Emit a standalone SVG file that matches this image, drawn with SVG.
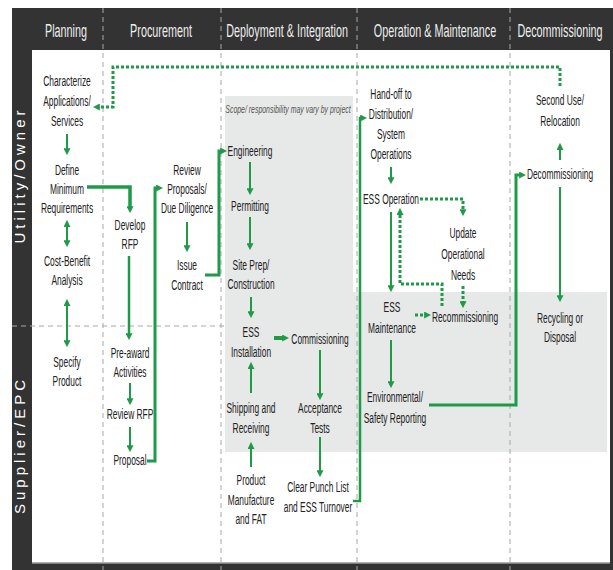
<svg xmlns="http://www.w3.org/2000/svg" width="613" height="570" viewBox="0 0 613 570">
<style>
.hd{font-family:"Liberation Sans",Arial,sans-serif;font-size:18px;fill:#eeeeee;text-anchor:middle}
.t{font-family:"Liberation Sans",Arial,sans-serif;font-size:15px;fill:#222;text-anchor:middle}
.lane{font-family:"Liberation Sans",Arial,sans-serif;font-size:15px;fill:#fff;letter-spacing:4px;text-anchor:middle}
.note{font-family:"Liberation Sans",Arial,sans-serif;font-size:10.5px;font-style:italic;fill:#555;text-anchor:middle}
.div{stroke:#a8a8a8;stroke-width:1;stroke-dasharray:5,4;fill:none}
.c{fill:none;stroke:#1f9a48;stroke-width:2;marker-end:url(#ah)}
.b{marker-start:url(#ah)}
.k{fill:none;stroke:#1f9a48;stroke-width:3.5;marker-end:url(#ah)}
.d{fill:none;stroke:#1f9a48;stroke-width:3;stroke-dasharray:3,2;marker-end:url(#ah)}
</style>
<defs>
<marker id="ah" markerUnits="userSpaceOnUse" viewBox="0 0 8 8" markerWidth="7" markerHeight="7" refX="1" refY="4" orient="auto-start-reverse">
<path d="M0,0 L8,4 L0,8 Z" fill="#1f9a48"/>
</marker>
</defs>
<rect x="0" y="0" width="613" height="570" fill="#fff"/>
<rect x="12" y="8" width="601" height="562" fill="#333"/>
<rect x="32" y="50" width="578" height="513" fill="#fff"/>
<line x1="32" y1="563" x2="610" y2="563" stroke="#999" stroke-width="1.5"/>
<path d="M225,96 H353 V292 H607 V452 H225 Z" fill="#e7e8e8"/>
<g id="dividers">
<line class="div" x1="103" y1="8" x2="103" y2="570"/>
<line class="div" x1="221" y1="8" x2="221" y2="570"/>
<line class="div" x1="357" y1="8" x2="357" y2="570"/>
<line class="div" x1="510" y1="8" x2="510" y2="570"/>
<line class="div" x1="12" y1="326" x2="225" y2="326"/>
</g>
<g id="headers">
<text class="hd" transform="translate(66,37) scale(0.6,1)">Planning</text>
<text class="hd" transform="translate(161,37) scale(0.6,1)">Procurement</text>
<text class="hd" transform="translate(287,37) scale(0.6,1)">Deployment &amp; Integration</text>
<text class="hd" transform="translate(435,37) scale(0.6,1)">Operation &amp; Maintenance</text>
<text class="hd" transform="translate(560,37) scale(0.6,1)">Decommissioning</text>
</g>
<g id="lanes">
<text class="lane" transform="translate(25,175) rotate(-90)">Utility/Owner</text>
<text class="lane" transform="translate(25,445) rotate(-90)">Supplier/EPC</text>
</g>
<text class="note" transform="translate(288,113) scale(0.66,1)">Scope/ responsibility may vary by project</text>
<g id="connectors">
<line class="c" x1="67" y1="134" x2="67" y2="149"/>
<line class="c b" x1="67" y1="226" x2="67" y2="241"/>
<line class="c b" x1="67" y1="305" x2="67" y2="341"/>
<line class="c" x1="129" y1="256" x2="129" y2="334" style="stroke-width:2.5"/>
<line class="c" x1="130" y1="383" x2="130" y2="399"/>
<line class="c" x1="130" y1="427" x2="130" y2="446"/>
<line class="c" x1="187" y1="222" x2="187" y2="246"/>
<line class="c" x1="250" y1="162" x2="250" y2="189"/>
<line class="c" x1="250" y1="217" x2="250" y2="244"/>
<line class="c" x1="251" y1="297" x2="251" y2="312"/>
<line class="c" x1="251" y1="393" x2="251" y2="368"/>
<line class="c" x1="251" y1="467" x2="251" y2="448"/>
<line class="c" x1="320" y1="350" x2="320" y2="394"/>
<line class="c" x1="320" y1="437" x2="320" y2="471"/>
<line class="c" x1="391" y1="167" x2="391" y2="178"/>
<line class="c" x1="391" y1="212" x2="391" y2="286"/>
<line class="c" x1="391" y1="340" x2="391" y2="382"/>
<line class="c" x1="560" y1="160" x2="560" y2="149"/>
<line class="c" x1="560" y1="187" x2="560" y2="296"/>
<path class="k" d="M87,187 H130 V207"/>
<path class="k" d="M147,461 H155 V188 H157" style="stroke-width:3"/>
<path class="k" d="M205,275 H219 V151 H221" style="stroke-width:3"/>
<path class="k" d="M274,338 H283" style="stroke-width:4"/>
<path class="k" d="M353,501 H360 V118 H361" style="stroke-width:2.5"/>
<path class="k" d="M429,405 H516 V175 H520" style="stroke-width:3"/>
<path class="d" d="M560,86 V67 H113 V107 H99"/>
<path class="d" d="M420,199 H463 V210"/>
<path class="d" d="M463,286 V302"/>
<path class="d" d="M442,306 V284 H400 V214"/>
<path class="d" d="M415,315 H425"/>
</g>
<g id="n1"><text class="t" transform="translate(67,0) scale(0.56,1)"><tspan x="0" y="86">Characterize</tspan><tspan x="0" y="106">Applications/</tspan><tspan x="0" y="126">Services</tspan></text></g>
<g id="n2"><text class="t" transform="translate(67,0) scale(0.56,1)"><tspan x="0" y="175">Define</tspan><tspan x="0" y="194">Minimum</tspan><tspan x="0" y="213">Requirements</tspan></text></g>
<g id="n3"><text class="t" transform="translate(67,0) scale(0.56,1)"><tspan x="0" y="266">Cost-Benefit</tspan><tspan x="0" y="285">Analysis</tspan></text></g>
<g id="n4"><text class="t" transform="translate(67,0) scale(0.56,1)"><tspan x="0" y="367">Specify</tspan><tspan x="0" y="386">Product</tspan></text></g>
<g id="n5"><text class="t" transform="translate(130,0) scale(0.56,1)"><tspan x="0" y="230">Develop</tspan><tspan x="0" y="249">RFP</tspan></text></g>
<g id="n6"><text class="t" transform="translate(130,0) scale(0.56,1)"><tspan x="0" y="358">Pre-award</tspan><tspan x="0" y="377">Activities</tspan></text></g>
<g id="n7"><text class="t" transform="translate(130,0) scale(0.56,1)"><tspan x="0" y="419">Review RFP</tspan></text></g>
<g id="n8"><text class="t" transform="translate(130,0) scale(0.56,1)"><tspan x="0" y="465">Proposal</tspan></text></g>
<g id="n9"><text class="t" transform="translate(187,0) scale(0.56,1)"><tspan x="0" y="175">Review</tspan><tspan x="0" y="194">Proposals/</tspan><tspan x="0" y="213">Due Diligence</tspan></text></g>
<g id="n10"><text class="t" transform="translate(187,0) scale(0.56,1)"><tspan x="0" y="270">Issue</tspan><tspan x="0" y="290">Contract</tspan></text></g>
<g id="n11"><text class="t" transform="translate(250,0) scale(0.56,1)"><tspan x="0" y="156">Engineering</tspan></text></g>
<g id="n12"><text class="t" transform="translate(250,0) scale(0.56,1)"><tspan x="0" y="211">Permitting</tspan></text></g>
<g id="n13"><text class="t" transform="translate(251,0) scale(0.56,1)"><tspan x="0" y="270">Site Prep/</tspan><tspan x="0" y="289">Construction</tspan></text></g>
<g id="n14"><text class="t" transform="translate(251,0) scale(0.56,1)"><tspan x="0" y="337">ESS</tspan><tspan x="0" y="357">Installation</tspan></text></g>
<g id="n15"><text class="t" transform="translate(251,0) scale(0.56,1)"><tspan x="0" y="413">Shipping and</tspan><tspan x="0" y="433">Receiving</tspan></text></g>
<g id="n16"><text class="t" transform="translate(251,0) scale(0.56,1)"><tspan x="0" y="485">Product</tspan><tspan x="0" y="505">Manufacture</tspan><tspan x="0" y="524">and FAT</tspan></text></g>
<g id="n17"><text class="t" transform="translate(320,0) scale(0.56,1)"><tspan x="0" y="344">Commissioning</tspan></text></g>
<g id="n18"><text class="t" transform="translate(320,0) scale(0.56,1)"><tspan x="0" y="413">Acceptance</tspan><tspan x="0" y="433">Tests</tspan></text></g>
<g id="n19"><text class="t" transform="translate(318,0) scale(0.56,1)"><tspan x="0" y="492">Clear Punch List</tspan><tspan x="0" y="512">and ESS Turnover</tspan></text></g>
<g id="n20"><text class="t" transform="translate(391,0) scale(0.56,1)"><tspan x="0" y="99">Hand-off to</tspan><tspan x="0" y="119">Distribution/</tspan><tspan x="0" y="139">System</tspan><tspan x="0" y="159">Operations</tspan></text></g>
<g id="n21"><text class="t" transform="translate(391,0) scale(0.56,1)"><tspan x="0" y="204">ESS Operation</tspan></text></g>
<g id="n22"><text class="t" transform="translate(463,0) scale(0.56,1)"><tspan x="0" y="238">Update</tspan><tspan x="0" y="259">Operational</tspan><tspan x="0" y="280">Needs</tspan></text></g>
<g id="n23"><text class="t" transform="translate(392,0) scale(0.56,1)"><tspan x="0" y="312">ESS</tspan><tspan x="0" y="333">Maintenance</tspan></text></g>
<g id="n24"><text class="t" transform="translate(465,0) scale(0.56,1)"><tspan x="0" y="322">Recommissioning</tspan></text></g>
<g id="n25"><text class="t" transform="translate(395,0) scale(0.56,1)"><tspan x="0" y="402">Environmental/</tspan><tspan x="0" y="423">Safety Reporting</tspan></text></g>
<g id="n26"><text class="t" transform="translate(560,0) scale(0.56,1)"><tspan x="0" y="105">Second Use/</tspan><tspan x="0" y="126">Relocation</tspan></text></g>
<g id="n27"><text class="t" transform="translate(560,0) scale(0.56,1)"><tspan x="0" y="179">Decommissioning</tspan></text></g>
<g id="n28"><text class="t" transform="translate(560,0) scale(0.56,1)"><tspan x="0" y="323">Recycling or</tspan><tspan x="0" y="342">Disposal</tspan></text></g>
</svg>
